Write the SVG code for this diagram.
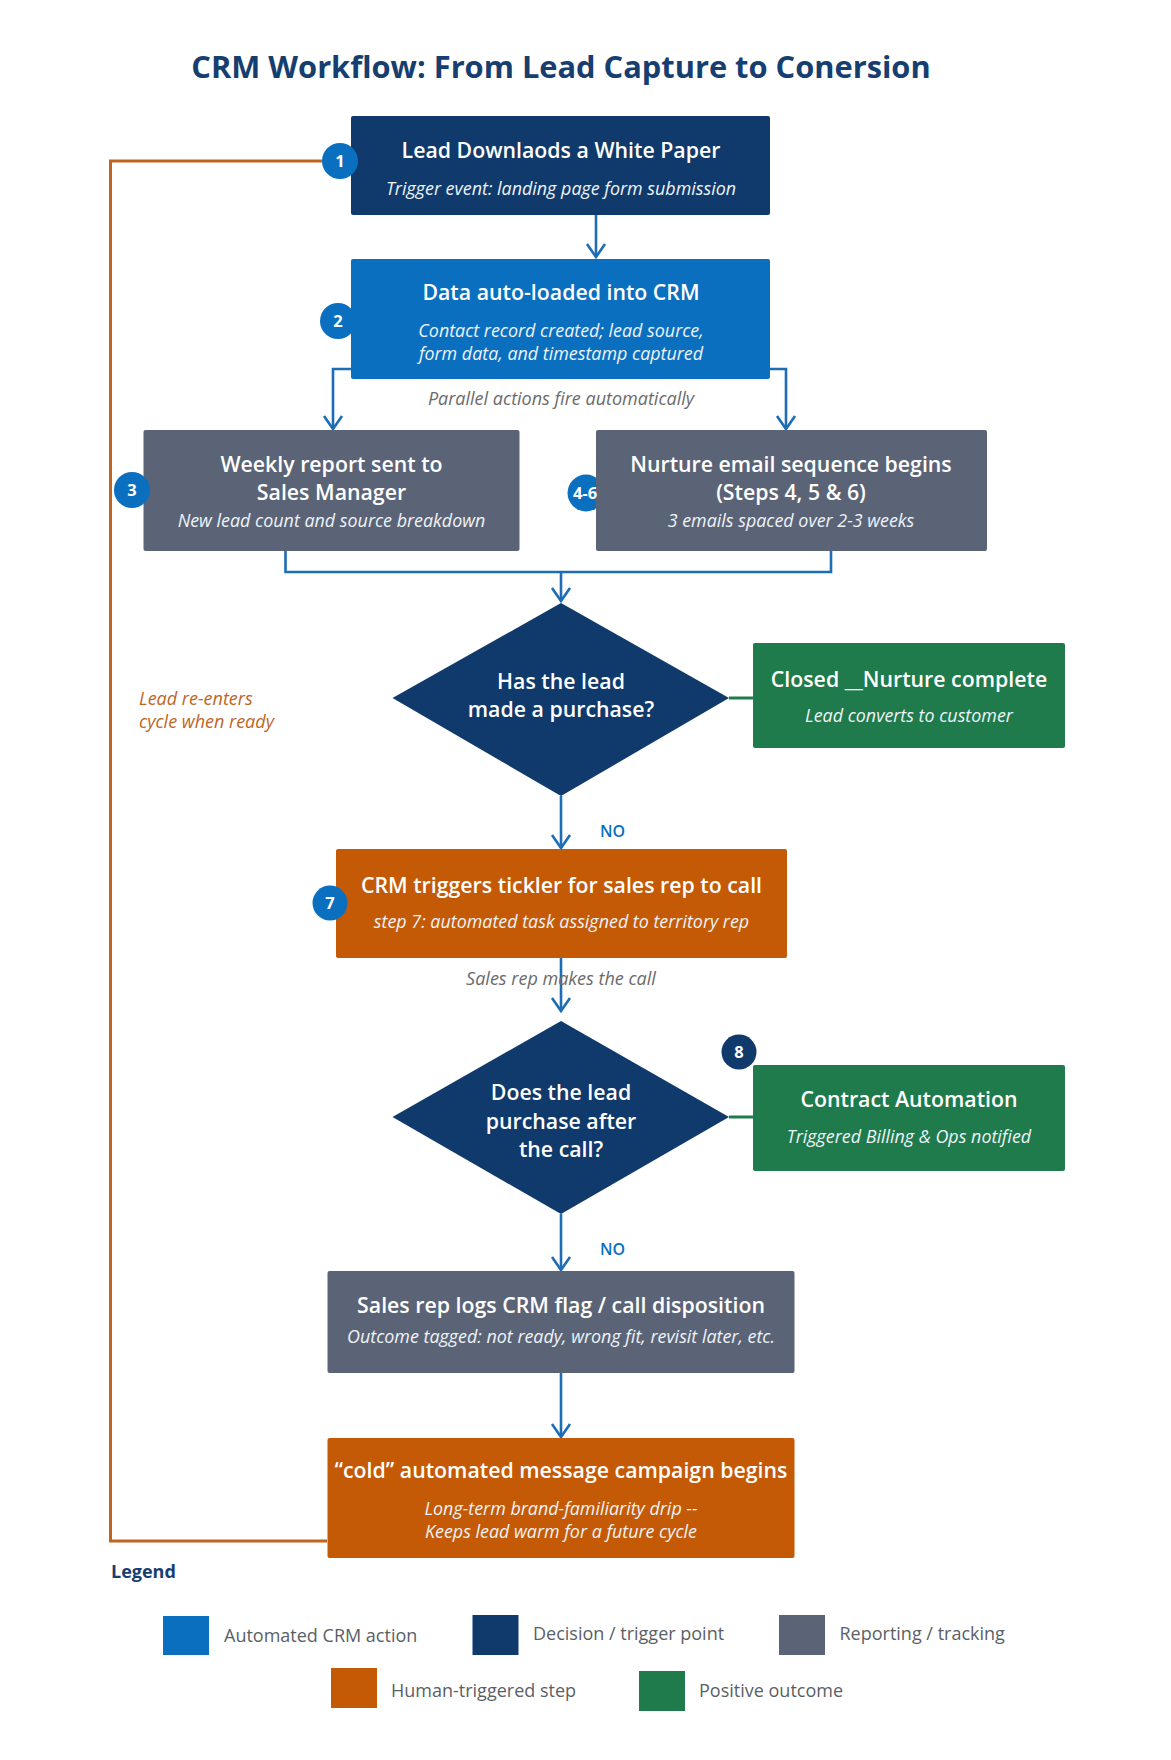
<svg xmlns="http://www.w3.org/2000/svg" width="1171" height="1760" viewBox="0 0 1171 1760">
<defs>
<style>
.t{font-family:"Open Sans","Liberation Sans",sans-serif;}
.h{font-family:"Open Sans","Liberation Sans",sans-serif;font-weight:600;font-size:21.3px;fill:#ffffff;text-anchor:middle;}
.s{font-family:"Open Sans","Liberation Sans",sans-serif;font-style:italic;font-size:17.9px;fill:#eef3f8;text-anchor:middle;}
.note{font-family:"Open Sans","Liberation Sans",sans-serif;font-style:italic;font-size:18px;fill:#6b6b6b;text-anchor:middle;}
.no{font-family:"Open Sans","Liberation Sans",sans-serif;font-weight:600;font-size:16px;fill:#0b6fc0;}
.bt{font-family:"Open Sans","Liberation Sans",sans-serif;font-weight:700;font-size:16.5px;fill:#ffffff;text-anchor:middle;}
.lg{font-family:"Open Sans","Liberation Sans",sans-serif;font-size:18px;fill:#5a5f66;}
.navy{fill:#0f3a6b;}
.blue{fill:#0b6fc0;}
.gray{fill:#5b6477;}
.orange{fill:#c55a06;}
.green{fill:#1f7a4c;}
.c{fill:none;stroke:#1c6db5;stroke-width:2.6;}
.cg{fill:none;stroke:#1f7a4c;stroke-width:3;}
.co{fill:none;stroke:#c0651f;stroke-width:3;}
</style>
<marker id="arr" viewBox="-15 -11 17 22" refX="0" refY="0" markerWidth="17" markerHeight="22" markerUnits="userSpaceOnUse" orient="auto">
<path d="M-13,-9 L0,0 L-13,9" fill="none" stroke="#1c6db5" stroke-width="2.6"/>
</marker>
</defs>
<rect width="1171" height="1760" fill="#ffffff"/>

<text id="title" class="t" x="561" y="78" text-anchor="middle" font-size="30.8" font-weight="700" fill="#163e6f">CRM Workflow: From Lead Capture to Conersion</text>

<g id="connectors">
<polyline class="co" points="327,1541 110.5,1541 110.5,161 322,161"/>
<line class="c" x1="596" y1="215" x2="596" y2="257" marker-end="url(#arr)"/>
<polyline class="c" points="351,369 333,369 333,429" marker-end="url(#arr)"/>
<polyline class="c" points="770,369 786,369 786,429" marker-end="url(#arr)"/>
<polyline class="c" points="285.5,551 285.5,572 831,572 831,551"/>
<line class="c" x1="561" y1="572" x2="561" y2="601" marker-end="url(#arr)"/>
<line class="c" x1="561" y1="796" x2="561" y2="848" marker-end="url(#arr)"/>
<line class="c" x1="561" y1="958" x2="561" y2="1011" marker-end="url(#arr)"/>
<line class="c" x1="561" y1="1214" x2="561" y2="1270" marker-end="url(#arr)"/>
<line class="c" x1="561" y1="1373" x2="561" y2="1437" marker-end="url(#arr)"/>
<line class="cg" x1="729" y1="698" x2="753" y2="698"/>
<line class="cg" x1="729" y1="1117" x2="753" y2="1117"/>
</g>

<g id="labels">
<text class="note" x="561" y="405">Parallel actions fire automatically</text>
<text class="note" x="561" y="985">Sales rep makes the call</text>
<text class="no" x="600" y="837">NO</text>
<text class="no" x="600" y="1255">NO</text>
<text class="t" x="139" y="705" font-size="18" font-style="italic" fill="#c0651f">Lead re-enters</text>
<text class="t" x="139" y="728" font-size="18" font-style="italic" fill="#c0651f">cycle when ready</text>
</g>

<g id="n1">
<rect class="navy" x="351" y="116" width="419" height="99" rx="2"/>
<text class="h" x="561" y="158">Lead Downlaods a White Paper</text>
<text class="s" x="561" y="195">Trigger event: landing page form submission</text>
<circle class="blue" cx="340" cy="161" r="18"/>
<text class="bt" x="340" y="167">1</text>
</g>

<g id="n2">
<rect class="blue" x="351" y="259" width="419" height="120" rx="2"/>
<text class="h" x="561" y="300">Data auto-loaded into CRM</text>
<text class="s" x="561" y="337">Contact record created; lead source,</text>
<text class="s" x="561" y="360">form data, and timestamp captured</text>
<circle class="blue" cx="338" cy="321" r="18"/>
<text class="bt" x="338" y="327">2</text>
</g>

<g id="n3">
<rect class="gray" x="143.5" y="430" width="376" height="121" rx="2"/>
<text class="h" x="331.5" y="472">Weekly report sent to</text>
<text class="h" x="331.5" y="500">Sales Manager</text>
<text class="s" x="331.5" y="527">New lead count and source breakdown</text>
<circle class="blue" cx="132" cy="490" r="18"/>
<text class="bt" x="132" y="496">3</text>
</g>

<g id="n4">
<circle class="blue" cx="586" cy="493" r="18.5"/>
<rect class="gray" x="596" y="430" width="391" height="121" rx="2"/>
<text class="bt" x="585" y="499">4-6</text>
<text class="h" x="791" y="472">Nurture email sequence begins</text>
<text class="h" x="791" y="500">(Steps 4, 5 &amp; 6)</text>
<text class="s" x="791" y="527">3 emails spaced over 2-3 weeks</text>
</g>

<g id="d1">
<polygon class="navy" points="561,603 729,698 561,796 392.5,698"/>
<text class="h" x="561" y="689">Has the lead</text>
<text class="h" x="561" y="717">made a purchase?</text>
</g>

<g id="g1">
<rect class="green" x="753" y="643" width="312" height="105" rx="2"/>
<text class="h" x="909" y="687">Closed __Nurture complete</text>
<text class="s" x="909" y="722">Lead converts to customer</text>
</g>

<g id="n7">
<rect class="orange" x="336" y="849" width="451" height="109" rx="2"/>
<text class="h" x="561.5" y="893">CRM triggers tickler for sales rep to call</text>
<text class="s" x="561.5" y="928">step 7: automated task assigned to territory rep</text>
<circle class="blue" cx="330" cy="903" r="17.5"/>
<text class="bt" x="330" y="909">7</text>
</g>

<g id="d2">
<polygon class="navy" points="561,1021 729,1117 561,1214 392.5,1117"/>
<text class="h" x="561" y="1100">Does the lead</text>
<text class="h" x="561" y="1129">purchase after</text>
<text class="h" x="561" y="1157">the call?</text>
</g>

<g id="g2">
<rect class="green" x="753" y="1065" width="312" height="106" rx="2"/>
<text class="h" x="909" y="1107">Contract Automation</text>
<text class="s" x="909" y="1143">Triggered Billing &amp; Ops notified</text>
<circle class="navy" cx="739" cy="1052" r="17.5"/>
<text class="bt" x="739" y="1058">8</text>
</g>

<g id="n8">
<rect class="gray" x="327.5" y="1271" width="467" height="102" rx="2"/>
<text class="h" x="561" y="1313">Sales rep logs CRM flag / call disposition</text>
<text class="s" x="561" y="1343">Outcome tagged: not ready, wrong fit, revisit later, etc.</text>
</g>

<g id="n9">
<rect class="orange" x="327.5" y="1438" width="467" height="120" rx="2"/>
<text class="h" x="561" y="1478">“cold” automated message campaign begins</text>
<text class="s" x="561" y="1515">Long-term brand-familiarity drip --</text>
<text class="s" x="561" y="1538">Keeps lead warm for a future cycle</text>
</g>

<g id="legend">
<text class="t" x="111" y="1578" font-size="18" font-weight="700" fill="#163e6f">Legend</text>
<rect class="blue" x="163" y="1616" width="46" height="39"/>
<text class="lg" x="224" y="1642">Automated CRM action</text>
<rect class="navy" x="472.5" y="1615" width="46" height="40"/>
<text class="lg" x="533" y="1640">Decision / trigger point</text>
<rect class="gray" x="779" y="1615" width="46" height="40"/>
<text class="lg" x="839.5" y="1640">Reporting / tracking</text>
<rect class="orange" x="331" y="1668" width="46" height="40"/>
<text class="lg" x="391" y="1697">Human-triggered step</text>
<rect class="green" x="639" y="1671" width="46" height="40"/>
<text class="lg" x="699" y="1697">Positive outcome</text>
</g>
</svg>
